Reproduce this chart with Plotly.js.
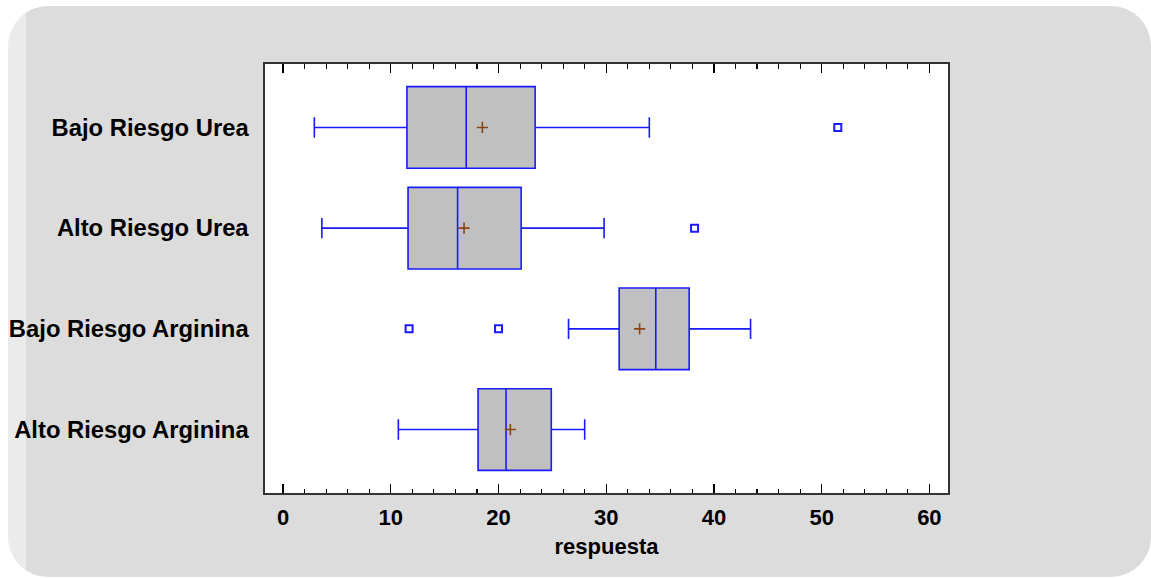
<!DOCTYPE html>
<html>
<head>
<meta charset="utf-8">
<script src="https://cdn.plot.ly/plotly-3.0.1.min.js"></script>
<style>
  html, body { margin: 0; padding: 0; background: #ffffff; }
  #bg { position: absolute; left: 8px; top: 6px; width: 1143px; height: 571px;
        border-radius: 40px;
        background: linear-gradient(to right, #ebebeb 18px, #dcdcdc 18px); }
  #chart { position: absolute; left: 0; top: 0; width: 1151px; height: 578px; }
</style>
</head>
<body>
<div id="bg"></div>
<div id="chart"></div>
<script>
// ---- data ----
const groups = ['Bajo Riesgo Urea', 'Alto Riesgo Urea', 'Bajo Riesgo Arginina', 'Alto Riesgo Arginina'];
const lowerWhisker = [2.9, 3.6, 26.5, 10.7];
const q1Values     = [11.5, 11.6, 31.2, 18.1];
const medianValues = [17.0, 16.2, 34.6, 20.7];
const q3Values     = [23.4, 22.1, 37.7, 24.9];
const upperWhisker = [34.0, 29.8, 43.4, 28.0];
const meanValues   = [18.5, 16.8, 33.1, 21.1];
const outlierValues = [51.5, 38.2, 11.7, 20.0];
const outlierGroups = ['Bajo Riesgo Urea', 'Alto Riesgo Urea', 'Bajo Riesgo Arginina', 'Bajo Riesgo Arginina'];
const xTickValues = [0, 10, 20, 30, 40, 50, 60];
const xTitle = 'respuesta';

const blue = '#1a1aff';
const font = { family: 'Liberation Sans, Arial, sans-serif', size: 22, color: '#000000', weight: 'bold' };
const yFont = { family: 'Liberation Sans, Arial, sans-serif', size: 23.8, color: '#000000', weight: 'bold' };

const traces = [
  {
    type: 'box', orientation: 'h',
    y: groups,
    q1: q1Values, median: medianValues, q3: q3Values,
    lowerfence: lowerWhisker, upperfence: upperWhisker,
    boxpoints: false,
    fillcolor: '#c0c0c0',
    line: { color: blue, width: 1.6 },
    width: 0.81,
    whiskerwidth: 0.25,
    hoverinfo: 'skip',
    showlegend: false
  },
  {
    type: 'scatter', mode: 'markers',
    x: meanValues, y: groups,
    marker: { symbol: 'cross-thin', size: 8, line: { color: '#8b4513', width: 1.6 } },
    hoverinfo: 'skip', showlegend: false
  },
  {
    type: 'scatter', mode: 'markers',
    x: outlierValues, y: outlierGroups,
    marker: { symbol: 'square-open', size: 7, color: blue, line: { color: blue, width: 2 } },
    hoverinfo: 'skip', showlegend: false
  }
];

const layout = {
  width: 1151, height: 578,
  paper_bgcolor: 'rgba(0,0,0,0)',
  plot_bgcolor: '#ffffff',
  margin: { l: 265, r: 203, t: 64, b: 85, pad: 0 },
  font: font,
  showlegend: false,
  xaxis: {
    range: [-1.68, 61.73],
    tickvals: xTickValues,
    ticks: 'inside', ticklen: 9, tickwidth: 1.3, tickcolor: '#000000',
    minor: { dtick: 2, ticks: 'inside', ticklen: 4.5, tickwidth: 1.1, tickcolor: '#000000' },
    showgrid: false, zeroline: false,
    showline: true, linecolor: '#333333', linewidth: 1.6, mirror: 'ticks',
    tickfont: font,
    ticklabelstandoff: 4,
    title: { text: xTitle, font: font, standoff: 9 }
  },
  yaxis: {
    type: 'category',
    categoryorder: 'array', categoryarray: groups,
    range: [3.63, -0.63],
    ticks: '', showgrid: false, zeroline: false,
    showline: true, linecolor: '#333333', linewidth: 1.6, mirror: true,
    tickfont: yFont,
    ticklabelstandoff: 10
  }
};

Plotly.newPlot('chart', traces, layout, { displayModeBar: false, staticPlot: true });
</script>
</body>
</html>
